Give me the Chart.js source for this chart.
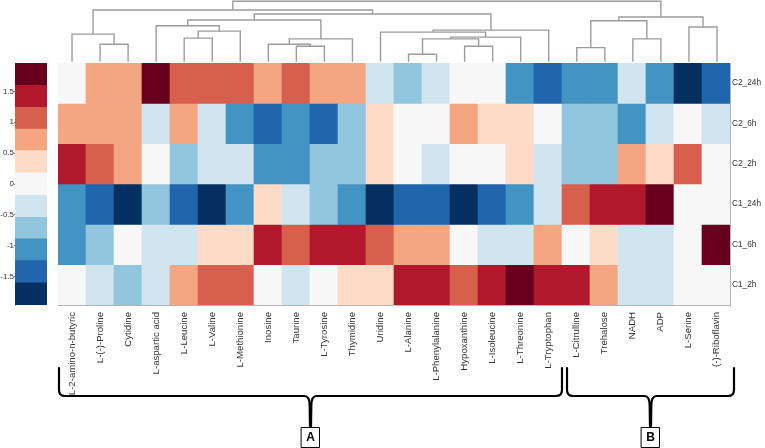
<!DOCTYPE html>
<html>
<head>
<meta charset="utf-8">
<script src="https://cdn.jsdelivr.net/npm/chart.js@4.4.0/dist/chart.umd.min.js"></script>
<style>
  html, body { margin: 0; padding: 0; background: #ffffff; overflow: hidden; }
  #wrap { position: relative; width: 765px; height: 448px; }
  canvas { position: absolute; }
</style>
</head>
<body>
<div id="wrap">
  <canvas id="heat" width="765" height="448" style="left:0;top:0;"></canvas>
  <canvas id="dendro" width="673" height="63" style="left:58px;top:0;"></canvas>
  <canvas id="cbar" width="50" height="310" style="left:0;top:0;"></canvas>
</div>
<script>
// ---------------- DATA ----------------
const metabolites = ['L-2-amino-n-butyric','L-(-)-Proline','Cytidine','L-aspartic acid','L-Leucine','L-Valine',
  'L-Methionine','Inosine','Taurine','L-Tyrosine','Thymidine','Uridine','L-Alanine','L-Phenylalanine',
  'Hypoxanthine','L-Isoleucine','L-Threonine','L-Tryptophan','L-Citrulline','Trehalose','NADH','ADP',
  'L-Serine','(-)-Riboflavin'];
const rowLabels = ['C2_24h','C2_6h','C2_2h','C1_24h','C1_6h','C1_2h'];

const C2_24h = [0, 0.7, 0.7, 1.8, 1.1, 1.1, 1.1, 0.7, 1.1, 0.7, 0.7, -0.35, -0.7, -0.35, 0, 0, -1.1, -1.4, -1.1, -1.1, -0.35, -1.1, -1.8, -1.4];
const C2_6h  = [0.7, 0.7, 0.7, -0.35, 0.7, -0.35, -1.1, -1.4, -1.1, -1.4, -0.7, 0.35, 0, 0, 0.7, 0.35, 0.35, 0, -0.7, -0.7, -1.1, -0.35, 0, -0.35];
const C2_2h  = [1.4, 1.1, 0.7, 0, -0.7, -0.35, -0.35, -1.1, -1.1, -0.7, -0.7, 0.35, 0, -0.35, 0, 0, 0.35, -0.35, -0.7, -0.7, 0.7, 0.35, 1.1, 0];
const C1_24h = [-1.1, -1.4, -1.8, -0.7, -1.4, -1.8, -1.1, 0.35, -0.35, -0.7, -1.1, -1.8, -1.4, -1.4, -1.8, -1.4, -1.1, -0.35, 1.1, 1.4, 1.4, 1.8, 0, 0];
const C1_6h  = [-1.1, -0.7, 0, -0.35, -0.35, 0.35, 0.35, 1.4, 1.1, 1.4, 1.4, 1.1, 0.7, 0.7, 0, -0.35, -0.35, 0.7, 0, 0.35, -0.35, -0.35, 0, 1.8];
const C1_2h  = [0, -0.35, -0.7, -0.35, 0.7, 1.1, 1.1, 0, -0.35, 0, 0.35, 0.35, 1.4, 1.4, 1.1, 1.4, 1.8, 1.4, 1.4, 0.7, -0.35, -0.35, 0, 0];
const rowValues = [C2_24h, C2_6h, C2_2h, C1_24h, C1_6h, C1_2h];

// colour scale (RdBu, 11 classes) and its bin edges
const cbColors = ['#053061','#2166ac','#4393c3','#92c5de','#d1e5f0','#f7f7f7','#fddbc7','#f4a582','#d6604d','#b2182b','#67001f'];
const cbEdges = [-1.96,-1.6,-1.24,-0.89,-0.54,-0.18,0.18,0.54,0.89,1.24,1.6,1.96];
const cbTicks = [-1.5,-1,-0.5,0,0.5,1,1.5];

// column dendrogram linkage (leaf ids 0..23, merged nodes 24..46)
const linkLeft   = [1,0,4,26,3,8,7,30,28,12,14,33,35,11,37,32,25,18,20,41,22,43,40];
const linkRight  = [2,24,5,6,27,9,29,10,31,13,15,34,16,36,17,38,39,19,21,42,23,44,45];
const linkHeight = [17.4,27.4,23.4,30.4,35.7,15.4,17.4,22.7,41.4,7.4,15.4,22.7,24.4,29.4,31.4,47.4,51.4,14,22.7,40.7,34.4,44.4,60];

// column groups shown by braces
const groupLabels = ['A','B'];
const groupFirst  = [0, 18];
const groupLast   = [17, 23];

// ---------------- HELPERS ----------------
function colorFor(v) {
  for (let i = 0; i < cbColors.length; i++) {
    if (v < cbEdges[i + 1]) return cbColors[i];
  }
  return cbColors[cbColors.length - 1];
}
const sans = "'Liberation Sans',Arial,sans-serif";

// ---------------- HEATMAP ----------------
const nRows = rowLabels.length;
const heatDatasets = rowValues.map((vals, r) => {
  const lo = nRows - 1 - r;
  return {
    label: rowLabels[r],
    data: vals.map(() => [lo, lo + 1]),
    backgroundColor: vals.map(colorFor),
    borderWidth: 0,
    grouped: false,
    barPercentage: 1,
    categoryPercentage: 1
  };
});

const bracePlugin = {
  id: 'braces',
  afterDraw(chart) {
    const ctx = chart.ctx;
    const xs = chart.scales.x;
    const yTop = 368, yLine = 396, yTip = 426, r = 6;
    ctx.save();
    ctx.strokeStyle = '#000';
    ctx.lineWidth = 2.2;
    ctx.lineJoin = 'round';
    ctx.lineCap = 'round';
    groupLabels.forEach((lab, g) => {
      let x1 = xs.getPixelForValue(groupFirst[g] - 0.5) + 1;
      let x2 = xs.getPixelForValue(groupLast[g] + 0.5);
      if (g > 0) { x1 += 4; x2 += 4; }
      const xm = (x1 + x2) / 2;
      ctx.beginPath();
      ctx.moveTo(x1, yTop);
      ctx.lineTo(x1, yLine - r);
      ctx.quadraticCurveTo(x1, yLine, x1 + r, yLine);
      ctx.lineTo(xm - 6, yLine);
      ctx.quadraticCurveTo(xm - 0.8, yLine, xm - 0.8, yLine + 10);
      ctx.lineTo(xm - 0.5, yTip);
      ctx.moveTo(xm + 0.5, yTip);
      ctx.lineTo(xm + 0.8, yLine + 10);
      ctx.quadraticCurveTo(xm + 0.8, yLine, xm + 6, yLine);
      ctx.lineTo(x2 - r, yLine);
      ctx.quadraticCurveTo(x2, yLine, x2, yLine - r);
      ctx.lineTo(x2, yTop);
      ctx.stroke();
      // label box
      ctx.lineWidth = 1;
      ctx.fillStyle = '#fff';
      ctx.fillRect(Math.round(xm) - 9.5, 427.5, 18, 20);
      ctx.strokeRect(Math.round(xm) - 9.5, 427.5, 18, 20);
      ctx.fillStyle = '#000';
      ctx.font = "bold 12px " + sans;
      ctx.textAlign = 'center';
      ctx.textBaseline = 'middle';
      ctx.fillText(lab, Math.round(xm) - 0.5, 438);
      ctx.lineWidth = 2.2;
    });
    ctx.restore();
  }
};

new Chart(document.getElementById('heat'), {
  type: 'bar',
  data: { labels: metabolites, datasets: heatDatasets },
  options: {
    responsive: false,
    animation: false,
    devicePixelRatio: 1,
    layout: { padding: { left: 58, top: 63, right: 0, bottom: 0 } },
    plugins: { legend: { display: false }, tooltip: { enabled: false } },
    scales: {
      x: {
        type: 'category',
        offset: true,
        grid: { display: false, drawTicks: false },
        border: { display: true, color: '#b5b5b5', width: 1 },
        ticks: {
          autoSkip: false, minRotation: 90, maxRotation: 90, padding: 7,
          color: '#333', font: { family: sans, size: 9.6 }
        },
        afterFit(s) { s.height = 143; }
      },
      y: {
        position: 'right',
        min: 0, max: nRows,
        grid: { display: false, drawTicks: false },
        border: { display: true, color: '#b5b5b5', width: 1 },
        afterBuildTicks(s) { s.ticks = rowLabels.map((_, i) => ({ value: nRows - 1 - i + 0.5 })); },
        ticks: {
          padding: 2, color: '#333', font: { family: sans, size: 8.3 },
          callback(v) { return rowLabels[nRows - 1 - Math.floor(v)]; }
        },
        afterFit(s) { s.width = 35; }
      }
    }
  },
  plugins: [bracePlugin]
});

// ---------------- DENDROGRAM ----------------
const nodeX = metabolites.map((_, i) => i);
const nodeH = metabolites.map(() => 0);
const dendroPts = [];
linkLeft.forEach((a, k) => {
  const b = linkRight[k], h = linkHeight[k];
  dendroPts.push({ x: nodeX[a], y: nodeH[a] }, { x: nodeX[a], y: h },
                 { x: nodeX[b], y: h }, { x: nodeX[b], y: nodeH[b] },
                 { x: nodeX[b], y: null });
  nodeX.push((nodeX[a] + nodeX[b]) / 2);
  nodeH.push(h);
});

new Chart(document.getElementById('dendro'), {
  type: 'scatter',
  data: { datasets: [{
    data: dendroPts, showLine: true, spanGaps: false,
    borderColor: '#9c9c9c', borderWidth: 1.4, pointRadius: 0, clip: false, tension: 0
  }] },
  options: {
    responsive: false, animation: false, devicePixelRatio: 1,
    layout: { padding: 0 },
    plugins: { legend: { display: false }, tooltip: { enabled: false } },
    scales: {
      x: { type: 'linear', min: -0.5, max: metabolites.length - 0.5, display: false },
      y: { type: 'linear', min: -1.3, max: 61.3, display: false }
    }
  }
});

// ---------------- COLOUR BAR ----------------
const cbDatasets = cbColors.map((c, i) => ({
  data: [[cbEdges[i], cbEdges[i + 1]]],
  backgroundColor: c, borderWidth: 0,
  grouped: false, barPercentage: 1, categoryPercentage: 1
}));

new Chart(document.getElementById('cbar'), {
  type: 'bar',
  data: { labels: ['scale'], datasets: cbDatasets },
  options: {
    responsive: false, animation: false, devicePixelRatio: 1,
    layout: { padding: { left: 0, top: 63, right: 3, bottom: 5 } },
    plugins: { legend: { display: false }, tooltip: { enabled: false } },
    scales: {
      x: { display: false },
      y: {
        position: 'left',
        min: cbEdges[0], max: cbEdges[cbEdges.length - 1],
        grid: { display: true, drawOnChartArea: false, drawTicks: true, tickLength: 1, color: '#777' },
        border: { display: true, color: '#aaa' },
        afterBuildTicks(s) { s.ticks = cbTicks.map(v => ({ value: v })); },
        ticks: {
          padding: 0, color: '#333', font: { family: sans, size: 8 },
          callback(v) { return String(v); }
        },
        afterFit(s) { s.width = 15; }
      }
    }
  }
});
</script>
</body>
</html>
